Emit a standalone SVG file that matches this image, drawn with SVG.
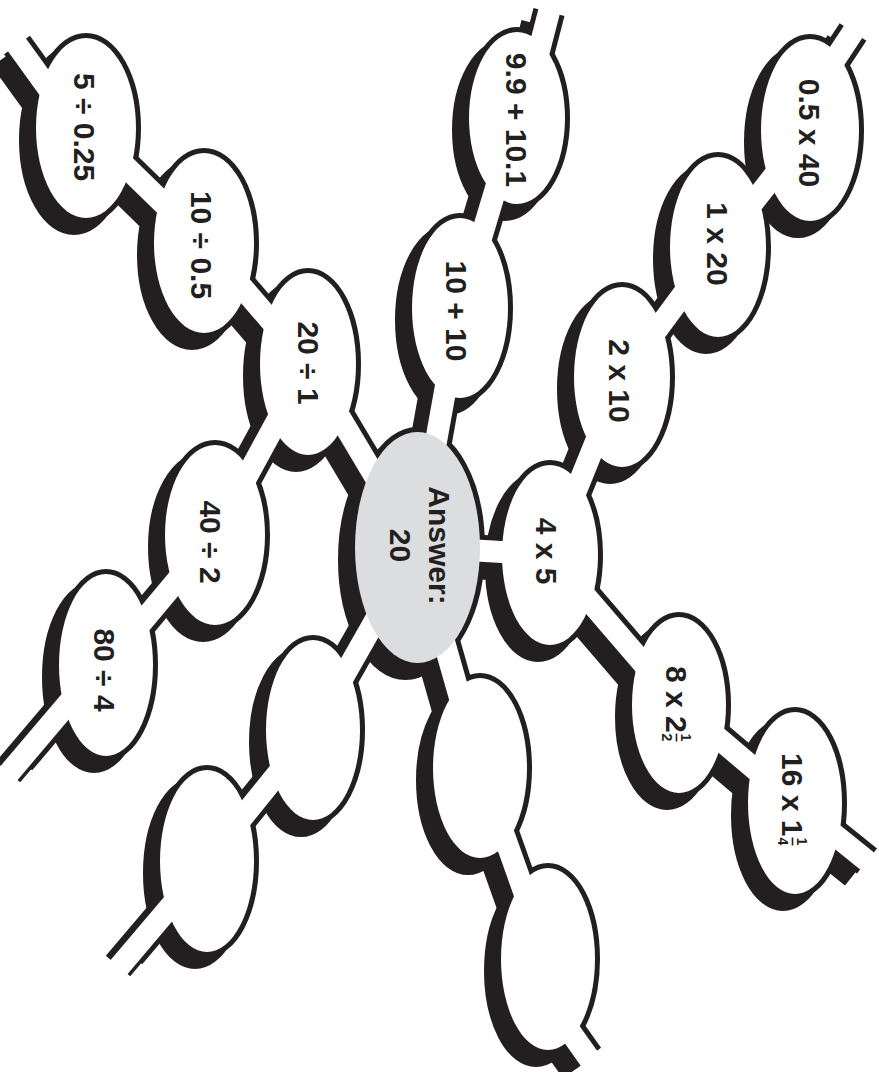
<svg xmlns="http://www.w3.org/2000/svg" width="879" height="1072" viewBox="0 0 879 1072">
<style>
.s ellipse{stroke-width:10}
.s line{stroke-width:32;stroke-linecap:butt}
#connectors line{stroke:#fff;stroke-width:22;stroke-linecap:butt}
.w{fill:#fff}
.t{font-family:"Liberation Sans",Arial,sans-serif;font-weight:bold;font-size:30px;fill:#231f20;text-anchor:middle}
.f{font-family:"Liberation Sans",Arial,sans-serif;font-weight:bold;font-size:14px;fill:#231f20;text-anchor:middle}
</style>
<defs>
<g id="sil" class="s" fill="#231f20" stroke="#231f20">
<ellipse cx="86" cy="128" rx="50" ry="90"/>
<ellipse cx="204" cy="243" rx="50" ry="90"/>
<ellipse cx="308" cy="364" rx="48" ry="91"/>
<ellipse cx="215" cy="535" rx="50" ry="90"/>
<ellipse cx="106" cy="665" rx="47" ry="91"/>
<ellipse cx="517" cy="118" rx="48" ry="86"/>
<ellipse cx="460" cy="308" rx="48" ry="90"/>
<ellipse cx="810" cy="130" rx="49" ry="91"/>
<ellipse cx="718" cy="247" rx="48" ry="90"/>
<ellipse cx="622" cy="377" rx="48" ry="90"/>
<ellipse cx="550" cy="555" rx="48" ry="90"/>
<ellipse cx="679" cy="705" rx="47" ry="88"/>
<ellipse cx="795" cy="803" rx="47" ry="91"/>
<ellipse cx="313" cy="730" rx="47" ry="90"/>
<ellipse cx="207" cy="861" rx="47" ry="91"/>
<ellipse cx="480" cy="768" rx="47" ry="90"/>
<ellipse cx="548" cy="959" rx="47" ry="91"/>
<ellipse cx="417.5" cy="547.5" rx="62.5" ry="115.5"/>
<line x1="87" y1="142" x2="17" y2="45"/>
<line x1="86" y1="128" x2="204" y2="243"/>
<line x1="204" y1="243" x2="308" y2="364"/>
<line x1="308" y1="364" x2="417" y2="547"/>
<line x1="308" y1="364" x2="215" y2="535"/>
<line x1="215" y1="535" x2="106" y2="665"/>
<line x1="104" y1="661" x2="20" y2="760"/>
<line x1="519" y1="128" x2="549" y2="12"/>
<line x1="517" y1="118" x2="460" y2="308"/>
<line x1="460" y1="308" x2="417" y2="547"/>
<line x1="787" y1="132" x2="853" y2="32"/>
<line x1="810" y1="130" x2="718" y2="247"/>
<line x1="718" y1="247" x2="622" y2="377"/>
<line x1="622" y1="377" x2="550" y2="555"/>
<line x1="550" y1="555" x2="417" y2="547"/>
<line x1="550" y1="555" x2="679" y2="705"/>
<line x1="679" y1="705" x2="795" y2="803"/>
<line x1="795" y1="803" x2="867" y2="861"/>
<line x1="313" y1="730" x2="417" y2="547"/>
<line x1="313" y1="730" x2="207" y2="861"/>
<line x1="214" y1="855" x2="130" y2="954"/>
<line x1="417" y1="547" x2="480" y2="768"/>
<line x1="480" y1="768" x2="548" y2="959"/>
<line x1="520" y1="961" x2="588" y2="1057"/>
</g>
</defs>
<rect width="879" height="1072" fill="#fff"/>
<g id="shadow"><use href="#sil" transform="translate(-12,12)"/></g>
<g id="outlines"><use href="#sil"/></g>
<g id="connectors">
<line x1="87" y1="142" x2="5.3" y2="28.8"/>
<line x1="86" y1="128" x2="204" y2="243"/>
<line x1="204" y1="243" x2="308" y2="364"/>
<line x1="308" y1="364" x2="417" y2="547"/>
<line x1="308" y1="364" x2="215" y2="535"/>
<line x1="215" y1="535" x2="106" y2="665"/>
<line x1="104" y1="661" x2="7.1" y2="775.3"/>
<line x1="519" y1="128" x2="554" y2="-7.4"/>
<line x1="517" y1="118" x2="460" y2="308"/>
<line x1="460" y1="308" x2="417" y2="547"/>
<line x1="787" y1="132" x2="864" y2="15.3"/>
<line x1="810" y1="130" x2="718" y2="247"/>
<line x1="718" y1="247" x2="622" y2="377"/>
<line x1="622" y1="377" x2="550" y2="555"/>
<line x1="550" y1="555" x2="417" y2="547"/>
<line x1="550" y1="555" x2="679" y2="705"/>
<line x1="679" y1="705" x2="795" y2="803"/>
<line x1="795" y1="803" x2="882.6" y2="873.5"/>
<line x1="313" y1="730" x2="417" y2="547"/>
<line x1="313" y1="730" x2="207" y2="861"/>
<line x1="214" y1="855" x2="117.1" y2="969.3"/>
<line x1="417" y1="547" x2="480" y2="768"/>
<line x1="480" y1="768" x2="548" y2="959"/>
<line x1="520" y1="961" x2="599.6" y2="1073.3"/>
</g>
<g id="n-div1"><ellipse class="w" cx="86" cy="128" rx="50" ry="90"/><text class="t" transform="translate(84.5,127) rotate(90)" y="10.7">5 ÷ 0.25</text></g>
<g id="n-div2"><ellipse class="w" cx="204" cy="243" rx="50" ry="90"/><text class="t" transform="translate(202,245) rotate(90)" y="10.7">10 ÷ 0.5</text></g>
<g id="n-div3"><ellipse class="w" cx="308" cy="364" rx="48" ry="91"/><text class="t" transform="translate(309,363) rotate(90)" y="10.7">20 ÷ 1</text></g>
<g id="n-div4"><ellipse class="w" cx="215" cy="535" rx="50" ry="90"/><text class="t" transform="translate(211,542) rotate(90)" y="10.7">40 ÷ 2</text></g>
<g id="n-div5"><ellipse class="w" cx="106" cy="665" rx="47" ry="91"/><text class="t" transform="translate(105,670) rotate(90)" y="10.7">80 ÷ 4</text></g>
<g id="n-add1"><ellipse class="w" cx="517" cy="118" rx="48" ry="86"/><text class="t" transform="translate(517,120) rotate(90)" y="10.7">9.9 + 10.1</text></g>
<g id="n-add2"><ellipse class="w" cx="460" cy="308" rx="48" ry="90"/><text class="t" transform="translate(457,311) rotate(90)" y="10.7">10 + 10</text></g>
<g id="n-mul1"><ellipse class="w" cx="810" cy="130" rx="49" ry="91"/><text class="t" transform="translate(810,133) rotate(90)" y="10.7">0.5 x 40</text></g>
<g id="n-mul2"><ellipse class="w" cx="718" cy="247" rx="48" ry="90"/><text class="t" transform="translate(718,244) rotate(90)" y="10.7">1 x 20</text></g>
<g id="n-mul3"><ellipse class="w" cx="622" cy="377" rx="48" ry="90"/><text class="t" transform="translate(620,381) rotate(90)" y="10.7">2 x 10</text></g>
<g id="n-mul4"><ellipse class="w" cx="550" cy="555" rx="48" ry="90"/><text class="t" transform="translate(547,551) rotate(90)" y="10.7">4 x 5</text></g>
<g id="n-mul5"><ellipse class="w" cx="679" cy="705" rx="47" ry="88"/>
<g transform="translate(677,704) rotate(90)">
<text class="t" x="-38" y="10.7" style="text-anchor:start">8 x 2</text>
<text class="f" x="33.5" y="-4">1</text>
<line x1="29.5" y1="0.5" x2="37.5" y2="0.5" stroke="#231f20" stroke-width="1.6"/>
<text class="f" x="33.5" y="15">2</text>
</g></g>
<g id="n-mul6"><ellipse class="w" cx="795" cy="803" rx="47" ry="91"/>
<g transform="translate(793,800) rotate(90)">
<text class="t" x="-47" y="10.7" style="text-anchor:start">16 x 1</text>
<text class="f" x="41.5" y="-4">1</text>
<line x1="37.5" y1="0.5" x2="45.5" y2="0.5" stroke="#231f20" stroke-width="1.6"/>
<text class="f" x="41.5" y="15">4</text>
</g></g>
<g id="n-blank1"><ellipse class="w" cx="313" cy="730" rx="47" ry="90"/></g>
<g id="n-blank2"><ellipse class="w" cx="207" cy="861" rx="47" ry="91"/></g>
<g id="n-blank3"><ellipse class="w" cx="480" cy="768" rx="47" ry="90"/></g>
<g id="n-blank4"><ellipse class="w" cx="548" cy="959" rx="47" ry="91"/></g>
<g id="n-center"><ellipse cx="417.5" cy="547.5" rx="62.5" ry="115.5" fill="#dcdddf"/>
<g transform="translate(420,545.5) rotate(90)">
<text class="t" y="-9.3">Answer:</text>
<text class="t" y="30.2">20</text>
</g></g>
</svg>
